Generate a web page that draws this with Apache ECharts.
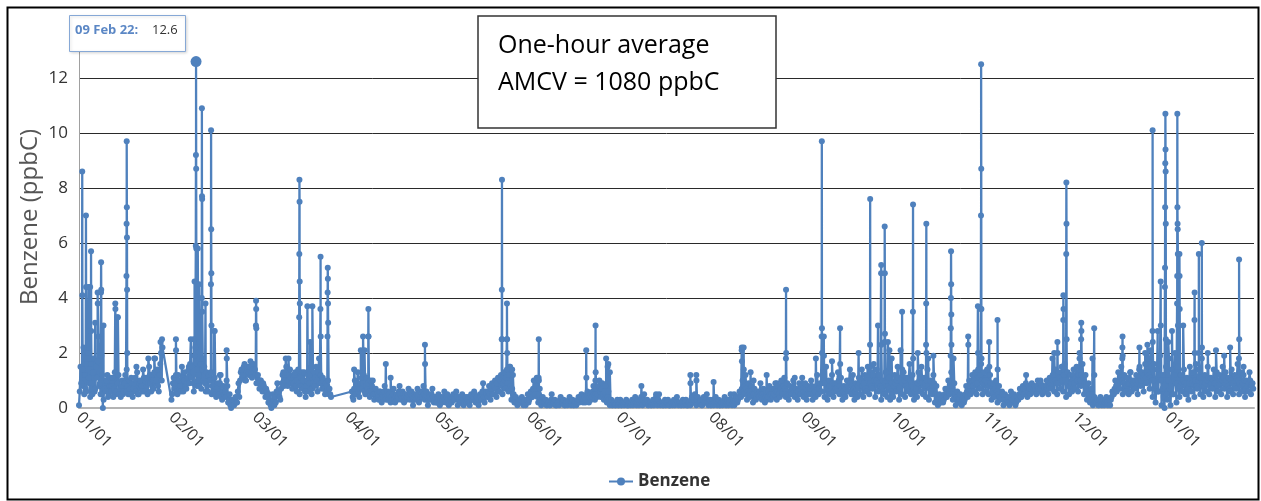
<!DOCTYPE html>
<html><head><meta charset="utf-8">
<script src="https://cdn.jsdelivr.net/npm/echarts@6/dist/echarts.min.js"></script>
<style>html,body{margin:0;padding:0;background:#fff}#c{width:1261px;height:501px}</style>
</head><body><div id="c"></div>
<script>
// ---------- DATA ----------
const seriesName = 'Benzene';
const yAxisName = 'Benzene (ppbC)';
const yTickValues = [0, 2, 4, 6, 8, 10, 12];
const monthTicks = ['2022-01-01','2022-02-01','2022-03-01','2022-04-01','2022-05-01','2022-06-01','2022-07-01','2022-08-01','2022-09-01','2022-10-01','2022-11-01','2022-12-01','2023-01-01'];
const axisStart = '2022-01-01';
const axisEnd = '2023-01-30';
const tooltipDate = '09 Feb 22:';
const tooltipValue = '12.6';
const highlightTime = '2022-02-09 06';
const noteLines = ['One-hour average', 'AMCV = 1080 ppbC'];

// readings at 00:00 and 12:00 each day; null = no reading
const jan2022 = [0.1,1.5, 0.8,2.2, 1.2,0.6, 2.0,0.9, 1.6,0.5, 1.8,0.7, 1.1,2.6, 0.9,1.9, 0.0,1.0, 0.6,1.2, 0.5,1.1, 0.8,0.4, 1.3,0.6, 0.9,0.5, 0.4,1.0, 0.6,1.2, 1.4,0.5, 0.7,1.1, 0.4,0.9, 0.6,1.3, 0.5,1.0, 0.8,1.4, 0.6,1.1, 0.5,1.5, 0.9,1.2, 0.7,1.8, 1.0,0.8, 1.2,2.0, 2.2,null, null,null, null,null];
const feb2022 = [0.3,0.9, 0.7,1.2, 0.5,1.0, 0.8,1.5, 0.6,1.3, 0.7,1.1, 0.9,2.5, 1.5,0.6, 2.2,0.8, 1.2,2.4, 0.7,1.8, 1.5,0.6, 0.8,1.2, 1.0,0.5, 0.6,1.1, 0.4,0.9, 0.5,1.2, 0.3,0.8, 0.6,1.0, 0.2,0.5, 0.0,0.3, 0.1,0.4, 0.2,0.9, 1.0,1.4, 1.2,1.6, 1.0,1.5, 1.3,1.7, 1.1,1.6];
const mar2022 = [1.4,0.9, 1.2,0.7, 1.0,0.6, 0.8,0.4, 0.6,0.2, 0.3,0.0, 0.5,0.1, 0.2,0.9, 0.6,0.3, 0.9,1.3, 1.0,1.5, 0.8,1.2, 1.1,0.7, 0.9,1.3, 0.6,1.4, 0.5,1.1, 0.7,1.3, 0.4,1.0, 0.6,1.2, 0.5,0.9, 0.8,1.5, 0.6,1.8, 1.2,0.7, 1.0,0.5, 0.6,1.0, 0.7,0.4, null,null, null,null, null,null, null,null, null,null];
const apr2022 = [null,null, null,0.6, 0.3,1.0, 0.5,1.3, 0.4,0.9, 0.7,1.2, 0.5,1.1, 0.9,0.4, 0.6,1.0, 0.3,0.7, 0.5,0.3, 0.6,0.2, 0.4,0.8, 0.3,0.6, 0.5,0.2, 0.3,0.7, 0.2,0.5, 0.4,0.8, 0.3,0.6, 0.2,0.5, 0.4,0.7, 0.3,0.6, 0.1,0.5, 0.3,0.7, 0.2,0.4, 0.4,0.8, 0.3,0.6, 0.1,0.5, 0.3,0.7, 0.2,0.4];
const may2022 = [0.2,0.5, 0.1,0.4, 0.3,0.6, 0.2,0.5, 0.1,0.3, 0.2,0.5, 0.3,0.6, 0.1,0.4, 0.2,0.5, 0.1,0.3, 0.2,0.4, 0.1,0.5, 0.3,0.6, 0.2,0.4, 0.1,0.5, 0.3,0.9, 0.2,0.6, 0.4,0.8, 0.3,0.9, 0.5,1.0, 0.4,1.1, 0.6,1.2, 0.5,1.3, 0.7,1.4, 0.6,1.5, 0.3,1.2, 0.2,0.4, 0.1,0.3, 0.2,0.4, 0.1,0.3, 0.2,0.5];
const jun2022 = [0.3,0.6, 0.4,1.0, 0.5,1.1, 0.2,0.7, 0.1,0.4, 0.2,0.3, 0.1,0.2, 0.1,0.5, 0.2,0.3, 0.1,0.2, 0.1,0.4, 0.2,0.3, 0.1,0.2, 0.2,0.4, 0.1,0.3, 0.1,0.2, 0.2,0.4, 0.3,0.5, 0.2,0.4, 0.3,0.6, 0.2,0.5, 0.4,0.8, 0.3,0.7, 0.5,1.0, 0.4,0.9, 0.3,0.8, 0.2,0.6, 0.1,0.3, 0.1,0.2, 0.1,0.3];
const jul2022 = [0.1,0.3, 0.1,0.2, 0.2,0.3, 0.1,0.2, 0.1,0.3, 0.2,0.4, 0.1,0.3, 0.2,0.4, 0.1,0.5, 0.2,0.3, 0.1,0.2, 0.1,0.3, 0.2,0.4, 0.1,0.5, 0.1,0.2, 0.1,0.3, 0.2,0.3, 0.1,0.2, 0.1,0.3, 0.2,0.4, 0.1,0.2, 0.1,0.3, 0.2,0.3, 0.1,0.2, 0.1,0.4, 0.2,0.5, 0.1,0.4, 0.2,0.3, 0.1,0.4, 0.2,0.5, 0.1,0.3];
const aug2022 = [0.1,0.3, 0.2,0.4, 0.1,0.3, 0.1,0.2, 0.2,0.4, 0.1,0.3, 0.2,0.5, 0.1,0.3, 0.2,0.4, 0.3,0.6, 0.4,1.0, 0.5,1.2, 0.3,0.9, 0.4,0.8, 0.2,0.7, 0.3,0.6, 0.4,0.9, 0.3,0.7, 0.2,0.6, 0.4,0.8, 0.3,0.7, 0.5,0.9, 0.3,0.8, 0.4,1.0, 0.5,1.1, 0.4,0.9, 0.3,0.8, 0.5,1.0, 0.4,0.7, 0.3,0.9, 0.5,1.1];
const sep2022 = [0.4,0.9, 0.3,0.8, 0.5,1.0, 0.3,0.7, 0.4,1.2, 0.5,0.9, 0.6,1.3, 0.4,1.5, 0.3,1.0, 0.5,1.2, 0.4,0.9, 0.6,1.3, 0.5,1.1, 0.3,0.8, 0.4,1.0, 0.6,1.4, 0.5,1.2, 0.3,0.9, 0.4,1.1, 0.5,1.4, 0.4,1.2, 0.6,1.5, 0.5,1.3, 0.7,1.6, 0.4,1.4, 0.6,1.2, 0.3,1.0, 0.5,1.3, 0.4,1.1, 0.3,0.9];
const oct2022 = [0.4,1.2, 0.6,1.5, 0.3,1.0, 0.5,1.3, 0.4,1.1, 0.6,1.6, 0.5,1.2, 0.3,0.9, 0.4,1.3, 0.6,1.5, 0.5,1.1, 0.4,1.4, 0.3,1.0, 0.5,1.2, 0.2,0.8, 0.1,0.5, 0.2,0.4, 0.3,0.7, 0.4,1.0, 0.5,1.3, 0.3,0.9, 0.1,0.6, 0.2,0.5, 0.1,0.4, 0.3,0.8, 0.4,1.0, 0.5,1.2, 0.6,1.3, 0.5,1.4, 0.7,1.6, 0.5,1.3];
const nov2022 = [0.6,1.4, 0.5,1.2, 0.3,0.9, 0.4,1.0, 0.2,0.8, 0.3,0.6, 0.1,0.5, 0.2,0.4, 0.1,0.6, 0.2,0.5, 0.1,0.4, 0.3,0.7, 0.4,0.8, 0.5,0.9, 0.4,0.8, 0.5,0.9, 0.6,0.8, 0.5,1.0, 0.6,0.9, 0.5,0.8, 0.6,1.0, 0.5,1.1, 0.7,1.2, 0.6,1.4, 0.5,1.3, 0.7,1.5, 0.6,1.6, 0.4,1.3, 0.5,1.2, 0.6,1.4];
const dec2022 = [0.7,1.5, 0.6,1.8, 0.8,1.6, 0.5,1.2, 0.3,0.9, 0.2,0.7, 0.1,0.4, 0.2,0.3, 0.1,0.4, 0.1,0.3, 0.2,0.4, 0.1,0.3, 0.3,0.6, 0.5,1.0, 0.6,1.3, 0.7,1.5, 0.5,1.2, 0.6,1.1, 0.5,1.3, 0.6,1.0, 0.7,1.2, 0.5,1.4, 0.8,1.3, 0.6,1.6, 0.9,1.8, 0.7,1.5, 0.4,1.6, 0.2,1.4, 0.6,1.9, 0.1,1.2, 0.0,1.5];
const jan2023 = [0.3,1.8, 0.1,1.4, 0.5,2.0, 0.2,1.5, 0.4,1.2, 0.6,1.4, 0.5,1.1, 0.3,1.5, 0.6,1.3, 0.4,1.6, 0.7,1.4, 0.5,1.8, 0.4,1.2, 0.6,1.5, 0.5,1.1, 0.7,1.4, 0.4,1.3, 0.6,1.2, 0.5,1.5, 0.7,1.3, 0.4,1.1, 0.6,1.4, 0.5,1.2, 0.7,1.6, 0.5,1.3, 0.6,1.2, 0.4,1.0, 0.6,1.3, 0.5,0.9];

// readings at 06:00 and 18:00 each day; null = no reading
const jan2022b = [0.6,0.9, 1.4,0.5, 0.7,1.6, 1.1,0.4, 0.9,1.3, 0.6,1.5, 1.7,0.8, 0.5,1.2, 0.3,0.7, 1.0,0.4, 0.8,0.6, 1.1,0.7, 0.5,1.0, 1.2,0.7, 0.8,0.5, 0.9,0.6, 0.8,1.0, 0.5,0.9, 0.7,1.1, 1.0,0.5, 0.9,0.7, 0.6,1.1, 1.0,0.8, 0.9,1.2, 0.6,1.0, 1.3,0.9, 1.4,0.6, 1.6,1.0, null,null, null,null, null,null];
const feb2022b = [0.5,1.1, 0.9,0.6, 1.2,0.7, 0.6,1.1, 1.0,0.8, 0.9,1.4, 1.6,1.1, 0.9,1.9, 1.3,1.0, 0.8,1.6, 1.4,1.0, 0.9,1.3, 0.6,1.0, 1.3,0.8, 0.9,0.5, 0.7,0.6, 0.9,0.4, 0.6,0.5, 0.4,0.8, 0.3,0.1, 0.2,0.1, 0.3,0.2, 0.6,0.4, 1.3,1.1, 1.5,1.0, 1.3,1.2, 1.5,1.2, 1.4,1.3];
const mar2022b = [1.2,1.1, 0.9,1.0, 0.8,0.9, 0.6,0.7, 0.4,0.5, 0.1,0.2, 0.3,0.4, 0.6,0.5, 0.4,0.7, 1.2,0.8, 1.3,0.9, 1.0,1.4, 0.9,1.2, 1.2,0.8, 1.0,0.9, 0.8,1.3, 1.0,0.6, 0.8,1.2, 0.9,0.7, 0.7,1.3, 1.1,1.0, 1.3,0.9, 0.9,1.1, 0.7,0.9, 0.8,0.5, 0.5,null, null,null, null,null, null,null, null,null, null,null];
const apr2022b = [null,null, null,0.4, 0.7,0.5, 0.9,0.6, 0.7,1.1, 0.9,0.6, 0.8,0.7, 0.6,1.0, 0.8,0.5, 0.5,0.4, 0.4,0.6, 0.3,0.5, 0.6,0.4, 0.5,0.3, 0.3,0.4, 0.5,0.3, 0.4,0.3, 0.6,0.5, 0.4,0.5, 0.4,0.3, 0.5,0.4, 0.5,0.3, 0.3,0.4, 0.5,0.4, 0.3,0.6, 0.6,0.5, 0.4,0.3, 0.3,0.4, 0.5,0.4, 0.3,0.2];
const may2022b = [0.4,0.3, 0.3,0.2, 0.4,0.3, 0.4,0.3, 0.2,0.4, 0.4,0.3, 0.5,0.4, 0.3,0.2, 0.4,0.3, 0.2,0.4, 0.3,0.2, 0.4,0.3, 0.4,0.5, 0.3,0.2, 0.3,0.4, 0.6,0.4, 0.4,0.5, 0.6,0.5, 0.7,0.5, 0.8,0.7, 0.9,0.6, 1.0,0.8, 0.9,1.0, 1.1,0.9, 1.2,0.8, 0.7,0.5, 0.3,0.2, 0.2,0.3, 0.3,0.2, 0.2,0.1, 0.3,0.2];
const jun2022b = [0.5,0.4, 0.7,0.6, 0.8,0.4, 0.5,0.3, 0.3,0.2, 0.2,0.1, 0.2,0.1, 0.3,0.2, 0.2,0.1, 0.1,0.2, 0.3,0.2, 0.2,0.1, 0.2,0.1, 0.3,0.2, 0.2,0.1, 0.2,0.1, 0.3,0.2, 0.4,0.3, 0.3,0.2, 0.5,0.4, 0.4,0.3, 0.6,0.5, 0.5,0.4, 0.8,0.6, 0.7,0.5, 0.6,0.4, 0.4,0.3, 0.2,0.1, 0.2,0.1, 0.2,0.1];
const jul2022b = [0.2,0.1, 0.2,0.1, 0.2,0.1, 0.1,0.2, 0.2,0.1, 0.3,0.2, 0.2,0.1, 0.3,0.2, 0.3,0.2, 0.2,0.1, 0.2,0.1, 0.2,0.1, 0.3,0.2, 0.3,0.2, 0.2,0.1, 0.2,0.1, 0.2,0.1, 0.1,0.2, 0.2,0.1, 0.3,0.2, 0.2,0.1, 0.2,0.1, 0.2,0.1, 0.1,0.2, 0.3,0.2, 0.3,0.2, 0.3,0.2, 0.2,0.1, 0.3,0.2, 0.3,0.2, 0.2,0.1];
const aug2022b = [0.2,0.1, 0.3,0.2, 0.2,0.1, 0.2,0.1, 0.3,0.2, 0.2,0.1, 0.3,0.2, 0.2,0.1, 0.3,0.2, 0.4,0.5, 0.7,0.6, 0.8,0.7, 0.6,0.5, 0.6,0.5, 0.5,0.4, 0.4,0.5, 0.6,0.5, 0.5,0.4, 0.4,0.3, 0.6,0.5, 0.5,0.4, 0.7,0.6, 0.6,0.5, 0.7,0.6, 0.8,0.7, 0.6,0.5, 0.5,0.6, 0.7,0.6, 0.5,0.6, 0.6,0.5, 0.8,0.7];
const sep2022b = [0.6,0.7, 0.5,0.6, 0.7,0.8, 0.5,0.6, 0.8,0.7, 0.7,0.6, 0.9,1.0, 0.9,0.7, 0.7,0.8, 0.8,0.9, 0.6,0.7, 0.9,1.0, 0.8,0.7, 0.6,0.5, 0.7,0.8, 1.0,0.9, 0.8,0.7, 0.6,0.7, 0.8,0.9, 1.0,0.8, 0.9,0.7, 1.1,1.0, 0.9,0.8, 1.2,1.0, 1.0,0.8, 0.9,0.8, 0.7,0.6, 0.9,0.8, 0.8,0.7, 0.6,0.5];
const oct2022b = [0.8,0.9, 1.0,1.1, 0.7,0.8, 0.9,1.0, 0.8,0.7, 1.1,1.0, 0.9,0.8, 0.6,0.7, 0.9,1.0, 1.1,0.9, 0.8,0.9, 1.0,0.8, 0.7,0.6, 0.8,0.9, 0.5,0.4, 0.3,0.2, 0.3,0.2, 0.5,0.4, 0.7,0.6, 0.9,0.8, 0.6,0.5, 0.4,0.3, 0.3,0.2, 0.3,0.2, 0.5,0.6, 0.7,0.8, 0.9,0.8, 1.0,0.9, 0.9,1.1, 1.2,1.0, 0.9,1.0];
const nov2022b = [1.0,0.9, 0.8,0.9, 0.6,0.5, 0.7,0.6, 0.5,0.4, 0.4,0.5, 0.3,0.2, 0.3,0.2, 0.4,0.3, 0.3,0.4, 0.2,0.3, 0.5,0.4, 0.6,0.7, 0.7,0.6, 0.6,0.7, 0.7,0.6, 0.7,0.7, 0.8,0.7, 0.7,0.8, 0.6,0.7, 0.8,0.7, 0.8,0.9, 0.9,1.0, 1.0,0.9, 0.9,1.1, 1.1,1.0, 1.2,1.0, 0.9,0.8, 0.8,0.9, 1.0,0.9];
const dec2022b = [1.1,1.0, 1.2,1.0, 1.2,1.1, 0.9,0.8, 0.6,0.5, 0.4,0.5, 0.3,0.2, 0.2,0.1, 0.3,0.2, 0.2,0.1, 0.3,0.2, 0.2,0.1, 0.4,0.5, 0.7,0.8, 0.9,1.0, 1.1,1.0, 0.9,0.8, 0.8,0.9, 0.9,1.0, 0.8,0.9, 1.0,0.9, 1.0,1.1, 1.0,1.1, 1.2,1.1, 1.3,1.2, 1.1,1.0, 1.0,0.7, 0.8,0.6, 1.2,1.0, 0.7,0.4, 0.8,0.5];
const jan2023b = [1.0,0.7, 0.8,0.5, 1.2,0.9, 0.9,0.7, 0.8,0.9, 1.0,0.9, 0.8,0.7, 0.9,1.0, 0.9,1.0, 1.0,0.8, 1.0,1.1, 1.1,0.9, 0.8,0.9, 1.0,1.1, 0.8,0.9, 1.0,0.9, 0.9,0.8, 0.9,1.0, 1.0,1.1, 0.9,1.0, 0.8,0.7, 1.0,0.9, 0.9,0.8, 1.1,1.0, 0.9,0.8, 0.9,1.0, 0.7,0.8, 0.9,1.0, 0.8,0.7];

// short hourly peaks: [date hour, ppbC]
const peaks = [
 ['2022-01-02 02',8.6],['2022-01-02 03',4.1],['2022-01-03 08',7.0],['2022-01-03 09',4.4],['2022-01-04 05',4.4],['2022-01-04 18',4.4],
 ['2022-01-05 01',5.7],['2022-01-05 02',2.8],['2022-01-06 10',3.1],['2022-01-07 06',4.2],['2022-01-07 07',3.8],
 ['2022-01-08 09',4.2],['2022-01-08 10',5.3],['2022-01-08 11',4.3],['2022-01-09 05',3.0],
 ['2022-01-13 04',3.8],['2022-01-13 05',3.6],['2022-01-13 20',3.3],['2022-01-14 01',3.3],
 ['2022-01-16 22',4.8],['2022-01-16 23',6.7],['2022-01-17 00',9.7],['2022-01-17 01',7.3],['2022-01-17 02',6.2],['2022-01-17 03',4.3],['2022-01-17 04',2.0],
 ['2022-01-20 06',1.5],['2022-01-24 06',1.8],['2022-01-26 06',1.8],['2022-01-28 08',2.4],['2022-01-28 20',2.5],
 ['2022-02-02 12',2.5],['2022-02-02 13',2.1],['2022-02-06 20',1.5],['2022-02-08 12',2.5],['2022-02-08 18',4.6],
 ['2022-02-09 04',5.9],['2022-02-09 05',9.2],['2022-02-09 06',12.6],['2022-02-09 07',8.7],['2022-02-09 08',5.8],
 ['2022-02-09 20',5.8],['2022-02-10 06',4.5],
 ['2022-02-11 04',4.0],['2022-02-11 05',10.9],['2022-02-11 06',7.7],['2022-02-11 07',7.6],['2022-02-11 08',3.5],['2022-02-12 10',3.8],
 ['2022-02-14 06',4.5],['2022-02-14 07',10.1],['2022-02-14 08',6.5],['2022-02-14 09',4.9],['2022-02-14 10',3.0],
 ['2022-02-15 08',2.8],['2022-02-15 12',2.8],['2022-02-17 06',1.2],['2022-02-19 12',2.1],['2022-02-19 13',1.8],
 ['2022-03-01 08',3.0],['2022-03-01 09',3.9],['2022-03-01 10',3.6],['2022-03-01 11',2.9],
 ['2022-03-11 08',1.8],['2022-03-12 06',1.8],
 ['2022-03-15 20',3.3],['2022-03-15 21',5.6],['2022-03-15 22',8.3],['2022-03-15 23',7.5],['2022-03-16 00',4.6],['2022-03-16 01',3.8],
 ['2022-03-18 14',3.7],['2022-03-19 12',2.4],['2022-03-20 06',3.7],
 ['2022-03-22 23',3.6],['2022-03-23 00',5.5],['2022-03-23 01',2.6],
 ['2022-03-25 08',2.6],['2022-03-25 09',4.2],['2022-03-25 10',5.1],['2022-03-25 11',4.7],['2022-03-25 12',3.8],['2022-03-25 13',3.1],
 ['2022-04-03 06',1.4],['2022-04-05 12',2.1],['2022-04-06 06',2.6],['2022-04-06 18',2.1],
 ['2022-04-08 00',2.6],['2022-04-08 01',3.6],['2022-04-08 02',2.6],['2022-04-13 21',1.6],['2022-04-15 12',1.1],
 ['2022-04-27 00',2.3],['2022-04-27 01',1.6],
 ['2022-05-22 18',2.5],['2022-05-22 19',4.3],['2022-05-22 20',8.3],['2022-05-22 21',2.5],
 ['2022-05-24 11',2.5],['2022-05-24 12',3.8],['2022-05-24 13',2.5],['2022-05-24 14',2.0],['2022-05-25 12',1.5],['2022-05-26 06',1.4],
 ['2022-06-04 03',1.1],['2022-06-04 04',2.5],['2022-06-04 05',1.0],['2022-06-20 02',2.1],['2022-06-20 03',1.1],
 ['2022-06-23 04',1.0],['2022-06-23 05',3.0],['2022-06-23 06',1.3],
 ['2022-06-26 18',1.8],['2022-06-27 06',1.5],['2022-06-27 12',1.6],['2022-06-28 00',1.3],
 ['2022-07-08 14',0.8],['2022-07-13 12',0.5],['2022-07-25 00',1.2],['2022-07-25 01',0.9],['2022-07-27 00',1.2],['2022-07-27 01',1.0],
 ['2022-08-01 19',0.95],['2022-08-08 16',0.5],
 ['2022-08-11 05',2.1],['2022-08-11 06',2.2],['2022-08-11 07',1.7],['2022-08-11 21',2.2],['2022-08-11 22',1.4],
 ['2022-08-14 05',1.3],['2022-08-15 05',1.0],['2022-08-19 14',1.2],['2022-08-23 00',0.9],
 ['2022-08-26 01',1.8],['2022-08-26 02',4.3],['2022-08-26 03',2.0],['2022-08-29 00',1.1],
 ['2022-09-05 02',1.8],['2022-09-07 01',2.6],['2022-09-07 02',9.7],['2022-09-07 03',2.9],['2022-09-07 04',2.0],
 ['2022-09-07 18',2.6],['2022-09-07 19',1.9],['2022-09-10 12',1.7],['2022-09-13 05',2.9],['2022-09-13 06',1.6],['2022-09-19 10',2.0],
 ['2022-09-23 06',2.3],['2022-09-23 07',7.6],['2022-09-23 08',1.5],['2022-09-25 22',3.0],
 ['2022-09-26 23',4.9],['2022-09-27 00',5.2],['2022-09-27 01',2.3],
 ['2022-09-28 03',2.4],['2022-09-28 04',6.6],['2022-09-28 05',4.9],['2022-09-28 06',2.7],
 ['2022-09-29 06',2.4],['2022-09-29 18',2.1],['2022-09-30 12',1.8],
 ['2022-10-03 12',2.1],['2022-10-04 00',3.5],['2022-10-04 01',1.4],['2022-10-07 15',3.5],['2022-10-07 16',7.4],['2022-10-07 17',1.8],
 ['2022-10-09 06',2.0],['2022-10-12 01',2.3],['2022-10-12 02',3.8],['2022-10-12 03',6.7],['2022-10-12 04',2.0],['2022-10-12 18',1.8],['2022-10-14 12',1.9],
 ['2022-10-20 07',1.9],['2022-10-20 08',2.9],['2022-10-20 09',4.0],['2022-10-20 10',5.7],['2022-10-20 11',4.5],['2022-10-20 12',3.4],['2022-10-20 13',2.3],
 ['2022-10-21 06',1.8],['2022-10-26 04',2.6],['2022-10-26 05',2.3],['2022-10-29 10',3.7],['2022-10-29 11',2.0],
 ['2022-10-30 10',3.6],['2022-10-30 11',7.0],['2022-10-30 12',12.5],['2022-10-30 13',8.7],['2022-10-30 14',3.6],['2022-10-30 15',1.8],
 ['2022-11-02 05',2.4],['2022-11-02 06',1.5],['2022-11-05 00',3.2],['2022-11-05 01',1.4],
 ['2022-11-14 14',1.2],['2022-11-19 10',1.0],['2022-11-23 10',1.8],['2022-11-24 00',2.0],['2022-11-25 02',2.4],['2022-11-25 03',2.0],
 ['2022-11-27 01',3.2],['2022-11-27 02',4.1],['2022-11-27 03',3.6],
 ['2022-11-28 01',5.6],['2022-11-28 02',8.2],['2022-11-28 03',6.7],['2022-11-28 04',2.5],['2022-11-30 12',1.2],
 ['2022-12-02 12',2.0],['2022-12-03 01',2.5],['2022-12-03 02',3.1],['2022-12-03 03',2.8],['2022-12-06 20',1.8],['2022-12-07 10',2.9],['2022-12-07 11',1.2],
 ['2022-12-16 20',1.8],['2022-12-16 21',2.2],['2022-12-16 22',2.6],['2022-12-16 23',1.9],['2022-12-19 14',1.3],['2022-12-22 14',2.2],['2022-12-22 15',1.5],
 ['2022-12-24 12',2.0],['2022-12-25 06',2.3],['2022-12-26 06',2.1],['2022-12-26 23',2.8],['2022-12-27 00',10.1],['2022-12-27 01',2.4],
 ['2022-12-28 17',2.8],['2022-12-29 17',4.6],['2022-12-29 18',3.0],
 ['2022-12-31 03',4.4],['2022-12-31 04',5.1],['2022-12-31 05',7.3],['2022-12-31 06',8.9],['2022-12-31 07',10.7],['2022-12-31 08',9.4],['2022-12-31 09',8.6],['2022-12-31 10',6.7],['2022-12-31 11',2.5],
 ['2023-01-01 06',2.4],['2023-01-02 12',2.8],
 ['2023-01-04 05',3.8],['2023-01-04 06',4.8],['2023-01-04 07',10.7],['2023-01-04 08',7.3],['2023-01-04 09',6.7],['2023-01-04 10',6.5],['2023-01-04 11',5.6],['2023-01-04 12',3.0],
 ['2023-01-05 00',5.6],['2023-01-05 01',4.8],['2023-01-05 02',3.6],['2023-01-06 06',3.0],
 ['2023-01-10 01',3.2],['2023-01-10 02',4.2],['2023-01-10 03',2.0],['2023-01-11 12',5.6],['2023-01-11 13',2.0],['2023-01-12 12',6.0],['2023-01-12 13',2.2],
 ['2023-01-14 12',2.0],['2023-01-17 06',2.1],['2023-01-20 00',1.9],['2023-01-22 00',2.2],
 ['2023-01-24 23',1.8],['2023-01-25 00',5.4],['2023-01-25 01',2.5],['2023-01-26 12',1.5]
];

const monthStarts = ['2022-01-01','2022-02-01','2022-03-01','2022-04-01','2022-05-01','2022-06-01','2022-07-01','2022-08-01','2022-09-01','2022-10-01','2022-11-01','2022-12-01','2023-01-01'];
const onHour = [jan2022, feb2022, mar2022, apr2022, may2022, jun2022, jul2022, aug2022, sep2022, oct2022, nov2022, dec2022, jan2023];
const offHour = [jan2022b, feb2022b, mar2022b, apr2022b, may2022b, jun2022b, jul2022b, aug2022b, sep2022b, oct2022b, nov2022b, dec2022b, jan2023b];

// ---------- BUILD ----------
function ts(s) {
  const parts = s.split(' ');
  const d = parts[0].split('-').map(Number);
  return Date.UTC(d[0], d[1] - 1, d[2], parts[1] ? +parts[1] : 0);
}
const HOUR = 3600 * 1000;
const points = [];
monthStarts.forEach((start, m) => {
  const base = ts(start);
  onHour[m].forEach((v, i) => { if (v !== null) points.push([base + i * 12 * HOUR, v]); });
  offHour[m].forEach((v, i) => { if (v !== null) points.push([base + 6 * HOUR + i * 12 * HOUR, v]); });
});
peaks.forEach(([s, v]) => points.push([ts(s), v]));
points.sort((a, b) => a[0] - b[0]);
const hl = ts(highlightTime);
const seriesData = points.map(p => (p[0] === hl ? { value: p, symbolSize: 11 } : p));

const FONT = 'Open Sans, Noto Sans, sans-serif';
const BLUE = '#4f81bd';
const pad = n => (n < 10 ? '0' : '') + n;
const tickTimes = monthTicks.map(ts);

const chart = echarts.init(document.getElementById('c'), null, { renderer: 'canvas' });
chart.setOption({
  animation: false,
  backgroundColor: '#fff',
  grid: { left: 79, right: 7, top: 50, bottom: 93, containLabel: false },
  legend: {
    data: [seriesName], top: 468, left: 603,
    itemWidth: 24, itemHeight: 10, itemGap: 8,
    textStyle: { fontSize: 17, fontWeight: 'bold', color: '#333', fontFamily: FONT }
  },
  xAxis: {
    type: 'value', min: ts(axisStart), max: ts(axisEnd), scale: true,
    axisLine: { show: true, lineStyle: { color: '#b4b4b4', width: 2 } },
    axisTick: { show: false, customValues: tickTimes },
    splitLine: { show: false },
    axisLabel: {
      customValues: tickTimes,
      formatter: v => { const d = new Date(v); return pad(d.getUTCMonth() + 1) + '/' + pad(d.getUTCDate()); },
      rotate: -45, color: '#333', fontSize: 16, margin: 7, fontFamily: FONT
    }
  },
  yAxis: {
    type: 'value', min: yTickValues[0], max: 13.02, interval: 2,
    axisLine: { show: true, lineStyle: { color: '#a0a0a0', width: 1 } },
    axisTick: { show: false },
    axisLabel: { color: '#333', fontSize: 17, margin: 11, fontFamily: FONT, showMaxLabel: false,
      formatter: v => (yTickValues.indexOf(v) >= 0 ? String(v) : '') },
    splitLine: { show: true, showMaxLine: false, lineStyle: { color: '#2a2a2a', width: 1 } }
  },
  series: [{
    name: seriesName, type: 'line', data: seriesData,
    symbol: 'circle', symbolSize: 6, showSymbol: true, showAllSymbol: true,
    sampling: null, clip: false,
    lineStyle: { color: BLUE, width: 2.3 },
    itemStyle: { color: BLUE },
    emphasis: { disabled: true }
  }],
  graphic: [
    { type: 'rect', silent: true, z: 100, shape: { x: 7.5, y: 7.5, width: 1251, height: 492 },
      style: { fill: null, stroke: '#000', lineWidth: 2 } },
    { type: 'text', silent: true, z: 100, x: 30, y: 217, rotation: Math.PI / 2,
      style: { text: yAxisName, font: '24px ' + FONT, fill: '#555', align: 'center', verticalAlign: 'middle' } },
    { type: 'rect', silent: true, z: 100, shape: { x: 478, y: 16, width: 298, height: 112 },
      style: { fill: '#fff', stroke: '#333', lineWidth: 1.5 } },
    { type: 'text', silent: true, z: 101, left: 498, top: 33,
      style: { text: noteLines[0], font: '25px ' + FONT, fill: '#000' } },
    { type: 'text', silent: true, z: 101, left: 498, top: 70,
      style: { text: noteLines[1], font: '25px ' + FONT, fill: '#000' } },
    { type: 'rect', silent: true, z: 100, shape: { x: 69.5, y: 15.5, width: 116, height: 36 },
      style: { fill: '#fff', stroke: '#86a8d6', lineWidth: 1, shadowBlur: 3, shadowColor: 'rgba(0,0,0,0.15)', shadowOffsetX: 1, shadowOffsetY: 1 } },
    { type: 'text', silent: true, z: 101, left: 75, top: 24,
      style: { text: tooltipDate, font: 'bold 13px ' + FONT, fill: '#5b87c5' } },
    { type: 'text', silent: true, z: 101, left: 152, top: 24,
      style: { text: tooltipValue, font: '13px ' + FONT, fill: '#333' } }
  ]
});
</script></body></html>
